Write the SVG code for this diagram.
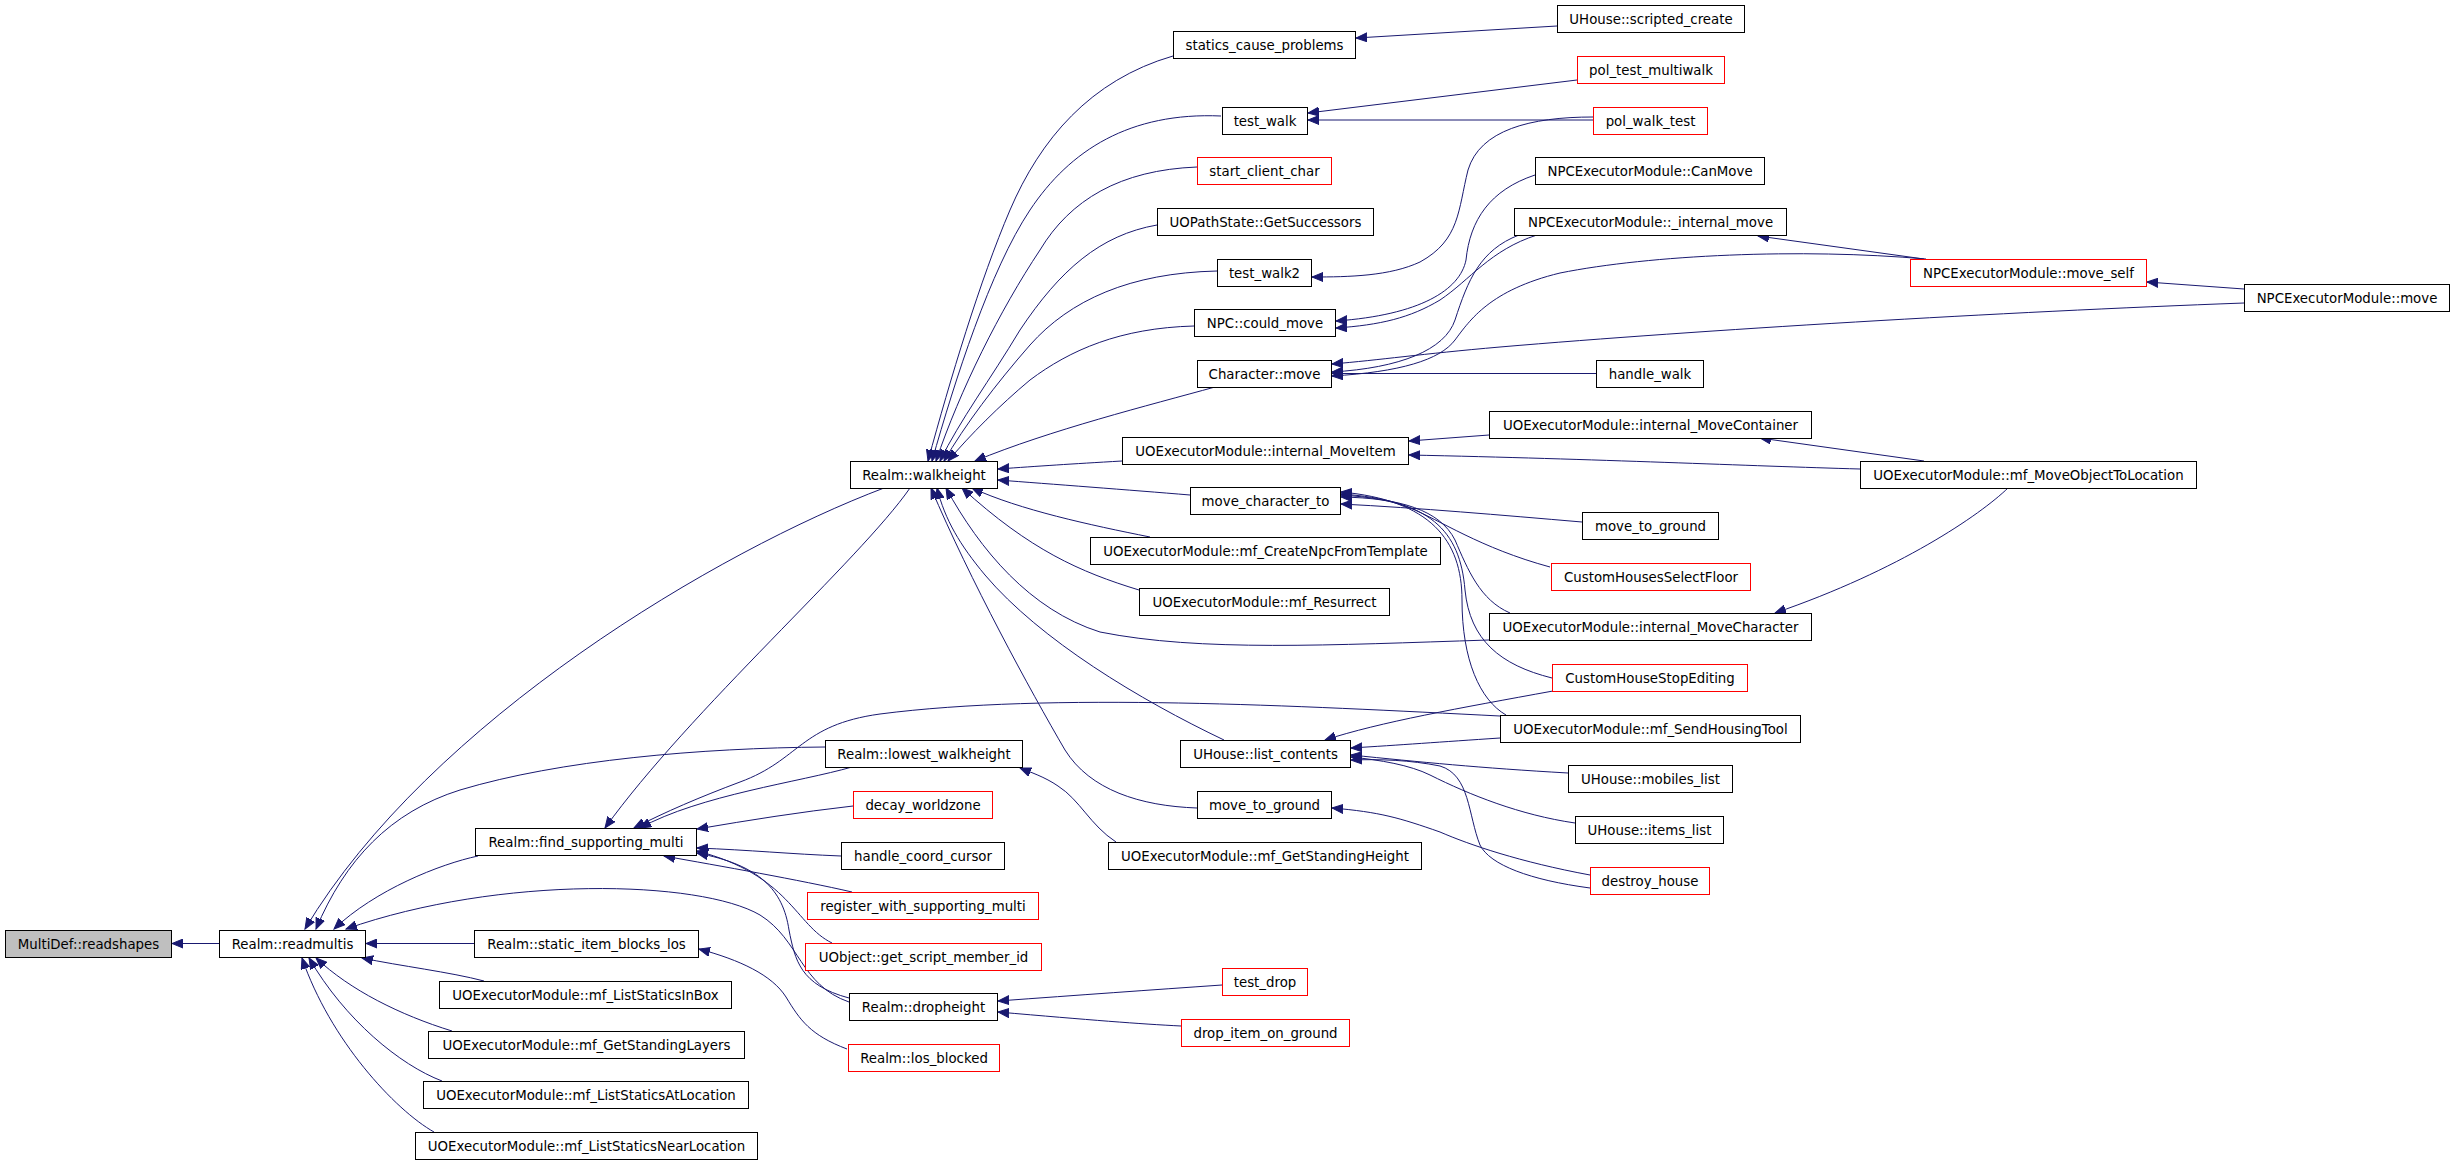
<svg xmlns="http://www.w3.org/2000/svg" width="2453" height="1164" viewBox="0 0 2453 1164">
<style>
.n rect{fill:#fff;stroke:#000;stroke-width:1}
.n.r rect{stroke:#f00}
.n.g rect{fill:#bfbfbf}
.n text{font-family:"DejaVu Sans",sans-serif;font-size:13.33px;text-anchor:middle;fill:#000}
#edges path{fill:none;stroke:#191970;stroke-width:1;marker-end:url(#ah)}
</style>
<defs>
<marker id="ah" markerUnits="userSpaceOnUse" markerWidth="12" markerHeight="10" refX="11" refY="5" orient="auto"><path d="M0,0.5 L11,5 L0,9.5 z" fill="#191970" stroke="#191970" stroke-width="1"/></marker>
</defs>
<rect width="2453" height="1164" fill="#fff"/>
<g id="edges">
<path d="M219,943.5 L172,943.5"/>
<path d="M474,943.5 L366,943.5"/>
<path d="M478,856 C440,864 375,890 334,929"/>
<path d="M884,488 C720,550 430,720 305,929"/>
<path d="M825,747 C700,748 560,760 460,790 C390,812 345,860 316,929"/>
<path d="M849,1002 C800,985 800,940 760,915 C700,880 500,875 346,929"/>
<path d="M484,981 C450,972 400,966 362,958"/>
<path d="M452,1031 C400,1015 350,990 316,958"/>
<path d="M442,1081 C400,1065 345,1020 309,958"/>
<path d="M434,1132 C395,1110 330,1040 302,958"/>
<path d="M910,488 C860,560 690,710 605,828"/>
<path d="M852,767 C800,782 700,795 640,828"/>
<path d="M1500,716 C1300,706 1050,692 880,714 C800,725 800,760 740,782 C700,797 665,812 634,828"/>
<path d="M853,806 C800,812 750,820 697,829"/>
<path d="M841,856 C790,854 750,850 697,848"/>
<path d="M852,892 C800,880 720,866 664,856"/>
<path d="M832,943 C795,925 790,875 697,851"/>
<path d="M849,998 C800,985 795,960 789,930 C783,890 760,865 697,853"/>
<path d="M847,1049 C810,1035 800,1020 786,997 C772,975 740,960 699,949"/>
<path d="M1116,842 C1090,825 1080,800 1058,786 C1045,777 1030,772 1020,768"/>
<path d="M1173,56 C1090,80 1040,140 1010,210 C980,280 950,380 928,461"/>
<path d="M1221,116 C1130,112 1070,150 1030,210 C990,270 955,380 932,461"/>
<path d="M1197,167 C1120,170 1070,200 1040,250 C1000,310 960,390 936,461"/>
<path d="M1157,225 C1100,235 1060,270 1020,330 C990,380 960,420 940,461"/>
<path d="M1217,271 C1130,273 1070,300 1030,345 C995,385 965,425 944,461"/>
<path d="M1194,326 C1120,328 1070,350 1030,380 C1000,405 970,435 948,461"/>
<path d="M1215,387 C1150,405 1050,430 975,461"/>
<path d="M1122,461 C1070,464 1040,466 998,469"/>
<path d="M1190,495 C1130,490 1050,484 998,480"/>
<path d="M1150,537 C1090,525 1020,510 972,488"/>
<path d="M1139,590 C1080,572 1030,550 962,488"/>
<path d="M1489,640 C1330,645 1200,652 1100,632 C1030,610 980,550 946,488"/>
<path d="M1224,740 C1140,700 1040,640 985,575 C960,545 945,520 937,488"/>
<path d="M1197,808 C1140,806 1090,790 1065,750 C1030,690 970,580 931,488"/>
<path d="M1557,26 L1356,38"/>
<path d="M1577,80 L1308,113"/>
<path d="M1593,120 L1308,120"/>
<path d="M1593,117 C1530,117 1480,130 1468,170 C1458,210 1460,240 1420,262 C1390,276 1350,277 1312,277"/>
<path d="M1535,175 C1490,190 1470,220 1466,260 C1460,290 1420,315 1336,321"/>
<path d="M1537,235 C1490,250 1470,280 1440,300 C1410,318 1380,325 1336,328"/>
<path d="M1519,235 C1480,250 1468,280 1455,320 C1445,350 1400,368 1332,372"/>
<path d="M1926,259 C1800,248 1650,255 1560,273 C1490,290 1470,320 1455,340 C1440,360 1400,372 1332,376"/>
<path d="M2244,303 C2000,312 1700,330 1500,347 C1420,354 1380,360 1332,364"/>
<path d="M1596,373.5 L1332,373.5"/>
<path d="M1924,259 L1758,236"/>
<path d="M2244,289 L2147,282"/>
<path d="M1489,435 L1409,441"/>
<path d="M1860,469 C1750,466 1600,459 1409,455"/>
<path d="M1924,461 L1760,438"/>
<path d="M2008,488 C1980,515 1900,570 1775,613"/>
<path d="M1582,522 C1500,515 1420,508 1341,504"/>
<path d="M1550,567 C1480,548 1440,520 1410,508 C1390,500 1370,497 1341,495"/>
<path d="M1510,613 C1480,600 1468,570 1455,540 C1440,510 1400,498 1341,497"/>
<path d="M1552,678 C1500,665 1470,640 1465,590 C1460,530 1430,500 1341,494"/>
<path d="M1506,715 C1480,700 1462,660 1462,600 C1462,540 1430,500 1341,492"/>
<path d="M1553,691 C1460,708 1380,722 1325,740"/>
<path d="M1500,738 C1440,742 1400,745 1351,748"/>
<path d="M1568,773 C1480,768 1420,762 1351,755"/>
<path d="M1575,823 C1520,815 1470,795 1430,775 C1410,765 1380,760 1351,757"/>
<path d="M1590,888 C1530,880 1490,865 1480,845 C1468,815 1470,775 1440,766 C1410,760 1380,759 1351,760"/>
<path d="M1590,875 C1520,862 1470,845 1440,832 C1400,818 1380,812 1332,808"/>
<path d="M1222,985 C1150,990 1080,995 998,1001"/>
<path d="M1181,1026 C1140,1024 1090,1020 998,1012"/>
</g>
<g id="n0" class="n g"><rect x="5.5" y="930.5" width="166" height="27"/><text x="88.5" y="948.5">MultiDef::readshapes</text></g>
<g id="n1" class="n"><rect x="219.5" y="930.5" width="146" height="27"/><text x="292.5" y="948.5">Realm::readmultis</text></g>
<g id="n2" class="n"><rect x="475.5" y="828.5" width="221" height="27"/><text x="586" y="846.5">Realm::find_supporting_multi</text></g>
<g id="n3" class="n"><rect x="474.5" y="930.5" width="224" height="27"/><text x="586.5" y="948.5">Realm::static_item_blocks_los</text></g>
<g id="n4" class="n"><rect x="439.5" y="981.5" width="292" height="27"/><text x="585.5" y="999.5">UOExecutorModule::mf_ListStaticsInBox</text></g>
<g id="n5" class="n"><rect x="428.5" y="1031.5" width="316" height="27"/><text x="586.5" y="1049.5">UOExecutorModule::mf_GetStandingLayers</text></g>
<g id="n6" class="n"><rect x="423.5" y="1081.5" width="325" height="27"/><text x="586" y="1099.5">UOExecutorModule::mf_ListStaticsAtLocation</text></g>
<g id="n7" class="n"><rect x="415.5" y="1132.5" width="342" height="27"/><text x="586.5" y="1150.5">UOExecutorModule::mf_ListStaticsNearLocation</text></g>
<g id="n8" class="n"><rect x="850.5" y="461.5" width="147" height="27"/><text x="924" y="479.5">Realm::walkheight</text></g>
<g id="n9" class="n"><rect x="825.5" y="740.5" width="197" height="27"/><text x="924" y="758.5">Realm::lowest_walkheight</text></g>
<g id="n10" class="n r"><rect x="853.5" y="791.5" width="139" height="27"/><text x="923" y="809.5">decay_worldzone</text></g>
<g id="n11" class="n"><rect x="841.5" y="842.5" width="163" height="27"/><text x="923" y="860.5">handle_coord_cursor</text></g>
<g id="n12" class="n r"><rect x="807.5" y="892.5" width="231" height="27"/><text x="923" y="910.5">register_with_supporting_multi</text></g>
<g id="n13" class="n r"><rect x="805.5" y="943.5" width="236" height="27"/><text x="923.5" y="961.5">UObject::get_script_member_id</text></g>
<g id="n14" class="n"><rect x="849.5" y="993.5" width="148" height="27"/><text x="923.5" y="1011.5">Realm::dropheight</text></g>
<g id="n15" class="n r"><rect x="848.5" y="1044.5" width="151" height="27"/><text x="924" y="1062.5">Realm::los_blocked</text></g>
<g id="n16" class="n"><rect x="1173.5" y="31.5" width="182" height="27"/><text x="1264.5" y="49.5">statics_cause_problems</text></g>
<g id="n17" class="n"><rect x="1222.5" y="107.5" width="85" height="27"/><text x="1265" y="125.5">test_walk</text></g>
<g id="n18" class="n r"><rect x="1197.5" y="157.5" width="134" height="27"/><text x="1264.5" y="175.5">start_client_char</text></g>
<g id="n19" class="n"><rect x="1157.5" y="208.5" width="216" height="27"/><text x="1265.5" y="226.5">UOPathState::GetSuccessors</text></g>
<g id="n20" class="n"><rect x="1217.5" y="259.5" width="94" height="27"/><text x="1264.5" y="277.5">test_walk2</text></g>
<g id="n21" class="n"><rect x="1194.5" y="309.5" width="141" height="27"/><text x="1265" y="327.5">NPC::could_move</text></g>
<g id="n22" class="n"><rect x="1197.5" y="360.5" width="134" height="27"/><text x="1264.5" y="378.5">Character::move</text></g>
<g id="n23" class="n"><rect x="1122.5" y="437.5" width="286" height="27"/><text x="1265.5" y="455.5">UOExecutorModule::internal_MoveItem</text></g>
<g id="n24" class="n"><rect x="1190.5" y="487.5" width="150" height="27"/><text x="1265.5" y="505.5">move_character_to</text></g>
<g id="n25" class="n"><rect x="1090.5" y="537.5" width="350" height="27"/><text x="1265.5" y="555.5">UOExecutorModule::mf_CreateNpcFromTemplate</text></g>
<g id="n26" class="n"><rect x="1139.5" y="588.5" width="250" height="27"/><text x="1264.5" y="606.5">UOExecutorModule::mf_Resurrect</text></g>
<g id="n27" class="n"><rect x="1180.5" y="740.5" width="170" height="27"/><text x="1265.5" y="758.5">UHouse::list_contents</text></g>
<g id="n28" class="n"><rect x="1197.5" y="791.5" width="134" height="27"/><text x="1264.5" y="809.5">move_to_ground</text></g>
<g id="n29" class="n"><rect x="1108.5" y="842.5" width="313" height="27"/><text x="1265" y="860.5">UOExecutorModule::mf_GetStandingHeight</text></g>
<g id="n30" class="n r"><rect x="1222.5" y="968.5" width="85" height="27"/><text x="1265" y="986.5">test_drop</text></g>
<g id="n31" class="n r"><rect x="1181.5" y="1019.5" width="168" height="27"/><text x="1265.5" y="1037.5">drop_item_on_ground</text></g>
<g id="n32" class="n"><rect x="1557.5" y="5.5" width="187" height="27"/><text x="1651" y="23.5">UHouse::scripted_create</text></g>
<g id="n33" class="n r"><rect x="1577.5" y="56.5" width="147" height="27"/><text x="1651" y="74.5">pol_test_multiwalk</text></g>
<g id="n34" class="n r"><rect x="1593.5" y="107.5" width="114" height="27"/><text x="1650.5" y="125.5">pol_walk_test</text></g>
<g id="n35" class="n"><rect x="1535.5" y="157.5" width="229" height="27"/><text x="1650" y="175.5">NPCExecutorModule::CanMove</text></g>
<g id="n36" class="n"><rect x="1514.5" y="208.5" width="272" height="27"/><text x="1650.5" y="226.5">NPCExecutorModule::_internal_move</text></g>
<g id="n37" class="n"><rect x="1596.5" y="360.5" width="107" height="27"/><text x="1650" y="378.5">handle_walk</text></g>
<g id="n38" class="n"><rect x="1489.5" y="411.5" width="322" height="27"/><text x="1650.5" y="429.5">UOExecutorModule::internal_MoveContainer</text></g>
<g id="n39" class="n"><rect x="1582.5" y="512.5" width="136" height="27"/><text x="1650.5" y="530.5">move_to_ground</text></g>
<g id="n40" class="n r"><rect x="1551.5" y="563.5" width="199" height="27"/><text x="1651" y="581.5">CustomHousesSelectFloor</text></g>
<g id="n41" class="n"><rect x="1489.5" y="613.5" width="322" height="27"/><text x="1650.5" y="631.5">UOExecutorModule::internal_MoveCharacter</text></g>
<g id="n42" class="n r"><rect x="1552.5" y="664.5" width="195" height="27"/><text x="1650" y="682.5">CustomHouseStopEditing</text></g>
<g id="n43" class="n"><rect x="1500.5" y="715.5" width="300" height="27"/><text x="1650.5" y="733.5">UOExecutorModule::mf_SendHousingTool</text></g>
<g id="n44" class="n"><rect x="1568.5" y="765.5" width="164" height="27"/><text x="1650.5" y="783.5">UHouse::mobiles_list</text></g>
<g id="n45" class="n"><rect x="1575.5" y="816.5" width="148" height="27"/><text x="1649.5" y="834.5">UHouse::items_list</text></g>
<g id="n46" class="n r"><rect x="1590.5" y="867.5" width="119" height="27"/><text x="1650" y="885.5">destroy_house</text></g>
<g id="n47" class="n r"><rect x="1910.5" y="259.5" width="236" height="27"/><text x="2028.5" y="277.5">NPCExecutorModule::move_self</text></g>
<g id="n48" class="n"><rect x="2244.5" y="284.5" width="205" height="27"/><text x="2347" y="302.5">NPCExecutorModule::move</text></g>
<g id="n49" class="n"><rect x="1860.5" y="461.5" width="336" height="27"/><text x="2028.5" y="479.5">UOExecutorModule::mf_MoveObjectToLocation</text></g>
</svg>
